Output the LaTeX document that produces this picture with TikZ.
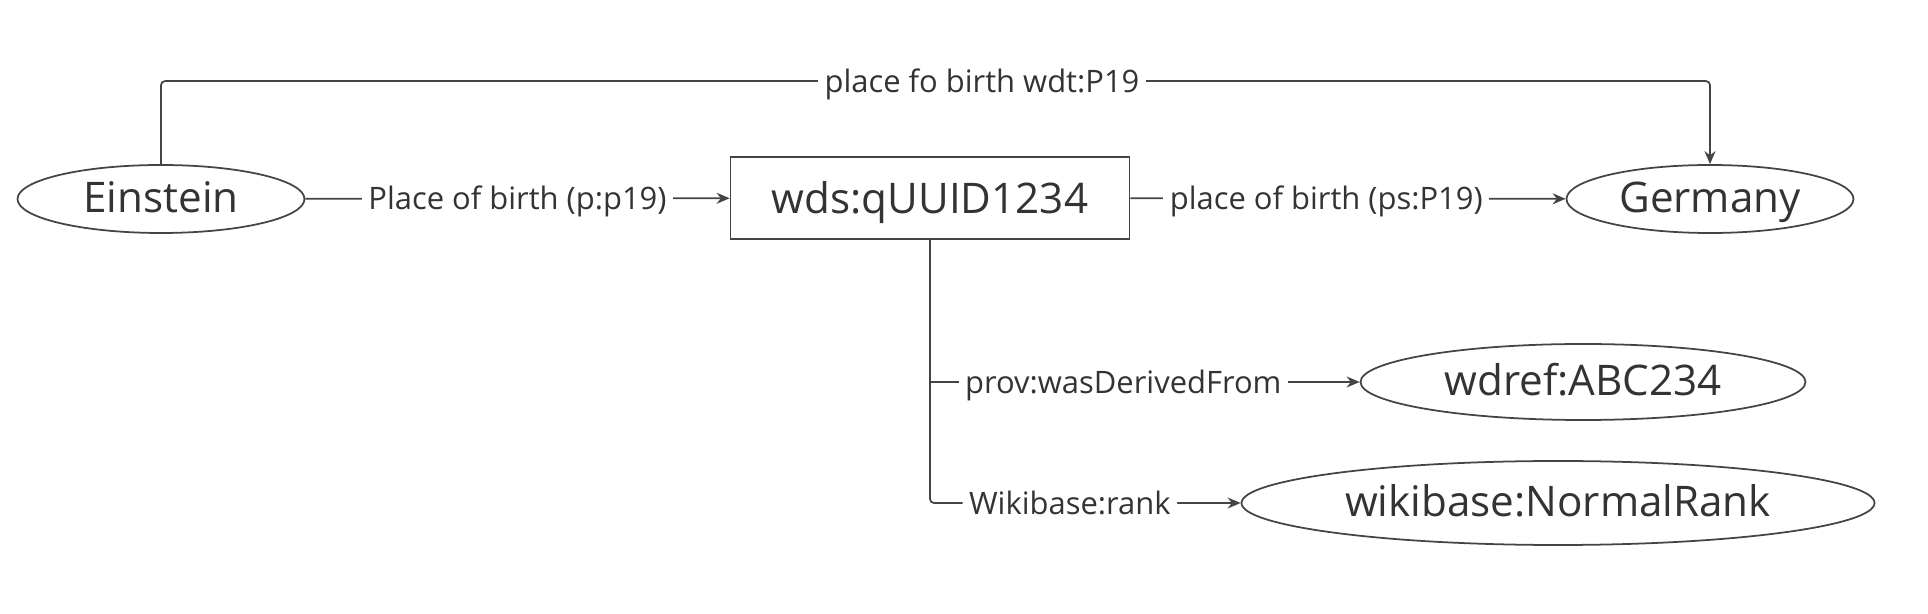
\documentclass[tikz,border=0pt]{standalone}
\usepackage{fontspec}
\setmainfont{Open Sans}
\usetikzlibrary{shapes.geometric,arrows.meta}
\definecolor{ink}{HTML}{333333}
\definecolor{wire}{HTML}{444444}

\begin{document}
\begin{tikzpicture}[
    ent/.style={ellipse, draw=wire, line width=1pt, inner sep=0pt, text=ink,
      font=\fontsize{24}{28}\selectfont, text height=20pt, text depth=4.5pt},
    stmt/.style={rectangle, draw=wire, line width=1pt, inner sep=0pt, text=ink,
      font=\fontsize{24}{28}\selectfont, text height=24pt, text depth=6.9pt},
    rel/.style={fill=white, inner xsep=0.13cm, inner ysep=0.05cm, text=ink,
      font=\fontsize{17.6}{21}\selectfont, text height=17.6pt, text depth=5pt},
    link/.style={draw=wire, line width=1pt, -{Stealth[length=0.26cm, width=0.22cm]}},
  ]
  \useasboundingbox (0,0) rectangle (38.56,-12.28);

  \node[ent, minimum width=5.74cm, minimum height=1.36cm] (einstein) at (3.22,-3.98) {Einstein};
  \node[stmt, minimum width=7.98cm, minimum height=1.64cm] (claim) at (18.6,-3.96) {wds:qUUID1234};
  \node[ent, minimum width=5.74cm, minimum height=1.36cm] (germany) at (34.2,-3.98) {Germany};
  \node[ent, minimum width=8.9cm, minimum height=1.52cm] (source) at (31.66,-7.64) {wdref:ABC234};
  \node[ent, minimum width=12.66cm, minimum height=1.68cm] (rank) at (31.16,-10.06) {wikibase:NormalRank};

  \draw[link, rounded corners=0.08cm] (einstein.north) -- ++(0,1.66) coordinate (up)
    -- node[rel, pos=0.53] {place fo birth wdt:P19} (up -| germany.north) -- (germany.north);
  \draw[link] (einstein) -- node[rel] {Place of birth (p:p19)} (claim);
  \draw[link] (claim) -- node[rel, pos=0.45] {place of birth (ps:P19)} (germany);

  \coordinate (fork) at (claim.south |- source.west);
  \draw[link, rounded corners=0.08cm] (claim.south) |- node[rel, pos=0.725] {Wikibase:rank} (rank.west);
  \draw[link] (fork) -- node[rel, pos=0.45] {prov:wasDerivedFrom} (source.west);
\end{tikzpicture}
\end{document}
